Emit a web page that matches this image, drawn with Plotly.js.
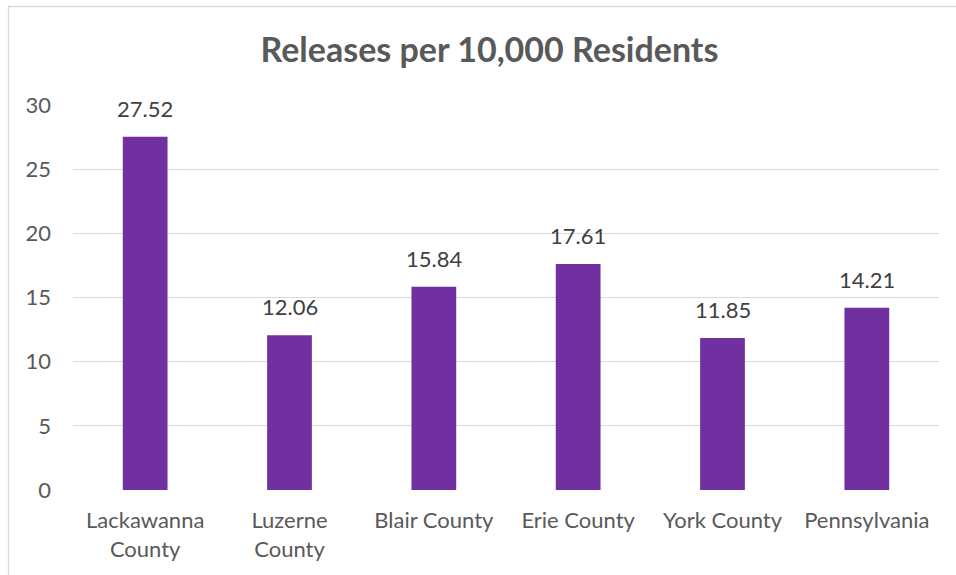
<!DOCTYPE html>
<html>
<head>
<meta charset="utf-8">
<script src="https://cdn.plot.ly/plotly-3.0.1.min.js"></script>
<style>
  html, body { margin: 0; padding: 0; background: #ffffff; }
  #chart { width: 956px; height: 575px; }
</style>
</head>
<body>
<div id="chart"></div>
<script>
const categories = ["Lackawanna<br>County", "Luzerne<br>County", "Blair County", "Erie County", "York County", "Pennsylvania"];
const values = [27.52, 12.06, 15.84, 17.61, 11.85, 14.21];
const yTicks = [0, 5, 10, 15, 20, 25, 30];

const FONT = "Lato, 'Open Sans', sans-serif";

const trace = {
  type: "bar",
  x: categories,
  y: values,
  width: 0.31,
  marker: { color: "#7030A0" },
  hoverinfo: "x+y"
};

const annotations = categories.map((c, i) => ({
  x: c,
  y: values[i],
  xref: "x",
  yref: "y",
  text: values[i].toFixed(2),
  showarrow: false,
  yanchor: "bottom",
  yshift: 13,
  font: { family: FONT, size: 22, color: "#404040" }
}));

const layout = {
  width: 956,
  height: 575,
  margin: { l: 73, r: 17, t: 105, b: 85 },
  paper_bgcolor: "#ffffff",
  plot_bgcolor: "#ffffff",
  showlegend: false,
  bargap: 0.69,
  title: {
    text: "<b>Releases per 10,000 Residents</b>",
    font: { family: FONT, size: 34, color: "#595959" },
    x: 0.512,
    xanchor: "center",
    y: 0.913,
    yanchor: "middle"
  },
  xaxis: {
    type: "category",
    showgrid: false,
    zeroline: false,
    showline: false,
    ticks: "",
    tickfont: { family: FONT, size: 22, color: "#595959" },
    ticklabelstandoff: 15
  },
  yaxis: {
    range: [0, 30],
    tickvals: yTicks,
    ticktext: yTicks.map(String),
    showgrid: true,
    gridcolor: "#d9d9d9",
    gridwidth: 1.3,
    zeroline: false,
    showline: false,
    ticks: "",
    tickfont: { family: FONT, size: 22, color: "#595959" },
    ticklabelstandoff: 21
  },
  annotations: annotations,
  shapes: [{
    type: "rect",
    xref: "paper",
    yref: "paper",
    x0: (8.5 - 73) / 866,
    x1: (1000 - 73) / 866,
    y0: -0.5,
    y1: 1 + (105 - 6.5) / 385,
    line: { color: "#d9d9d9", width: 1.3 },
    fillcolor: "rgba(0,0,0,0)",
    layer: "below"
  }]
};

Plotly.newPlot("chart", [trace], layout, { displayModeBar: false, staticPlot: true });
</script>
</body>
</html>
